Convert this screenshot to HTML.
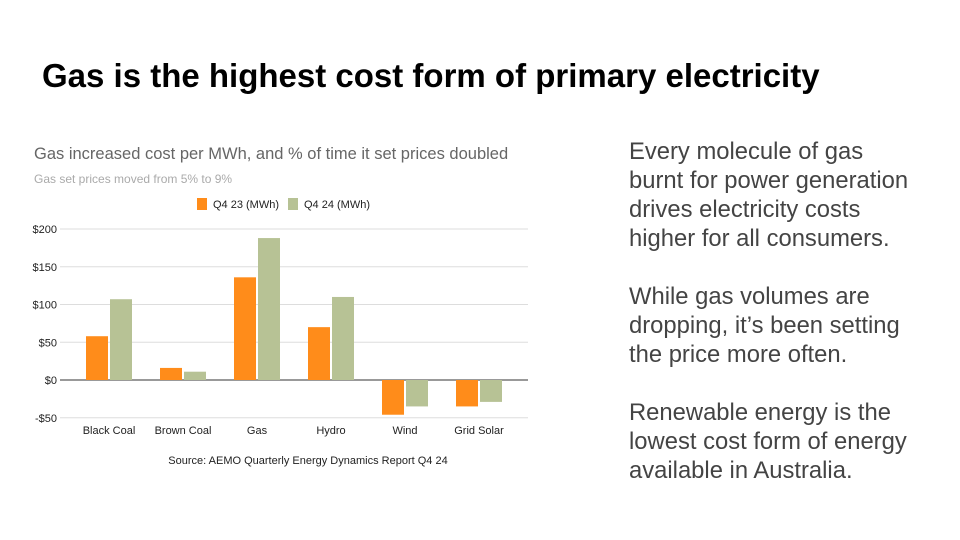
<!DOCTYPE html>
<html><head><meta charset="utf-8"><style>
body{margin:0;width:960px;height:540px;background:#fff;overflow:hidden;font-family:"Liberation Sans",Arial,sans-serif;position:relative}
.t{position:absolute;white-space:nowrap}
</style></head><body>
<div class="t" style="left:42px;top:57px;font-size:33px;font-weight:bold;color:#000">Gas is the highest cost form of primary electricity</div>
<div class="t" style="left:629px;top:137px;font-size:23.8px;line-height:29px;color:#444">Every molecule of gas<br>burnt for power generation<br>drives electricity costs<br>higher for all consumers.<br><br>While gas volumes are<br>dropping, it’s been setting<br>the price more often.<br><br>Renewable energy is the<br>lowest cost form of energy<br>available in Australia.</div>
<svg id="chart" width="960" height="540" style="position:absolute;left:0;top:0">
<text x="34" y="159" font-size="16.5" fill="#666">Gas increased cost per MWh, and % of time it set prices doubled</text>
<text x="34" y="183" font-size="12" fill="#aaa">Gas set prices moved from 5% to 9%</text>
<rect x="197" y="198" width="10" height="12" fill="#ff8c1a"/>
<text x="213" y="208" font-size="11" fill="#222">Q4 23 (MWh)</text>
<rect x="288" y="198" width="10" height="12" fill="#b7c295"/>
<text x="304" y="208" font-size="11" fill="#222">Q4 24 (MWh)</text>
<g id="grid"></g><g id="bars"></g><g id="labels"></g>
<text x="308" y="464" font-size="11" fill="#222" text-anchor="middle">Source: AEMO Quarterly Energy Dynamics Report Q4 24</text>
</svg>
<script>
const categories=["Black Coal","Brown Coal","Gas","Hydro","Wind","Grid Solar"];
const q423=[58,16,136,70,-46,-35];
const q424=[107,11,188,110,-35,-29];
const ticks=[-50,0,50,100,150,200];
const tickLabels=["-$50","$0","$50","$100","$150","$200"];
const ns="http://www.w3.org/2000/svg";
const y=v=>380-v*(151/200);
const x0=72,band=74;
const cx=i=>x0+band*i+band/2;
function mk(t,a,p){const e=document.createElementNS(ns,t);for(const k in a)e.setAttribute(k,a[k]);p.appendChild(e);return e;}
const G=document.getElementById('grid'),B=document.getElementById('bars'),L=document.getElementById('labels');
ticks.forEach((v,i)=>{
 const l=mk('line',{x1:60,x2:528,y1:y(v),y2:y(v),stroke:v===0?'#333':'#ddd','stroke-width':1},G);
 
 
 const t=mk('text',{x:57,y:y(v)+4,'font-size':11,fill:'#222','text-anchor':'end'},G);
 t.textContent=tickLabels[i];
 
 
});
categories.forEach((c,i)=>{
 [[q423,'#ff8c1a',-23],[q424,'#b7c295',1]].forEach(([s,col,off],j)=>{
  const v=s[i];
  const r=mk('rect',{x:cx(i)+off,width:22,y:Math.min(y(v),y(0)),height:Math.abs(y(v)-y(0)),fill:col},B);
  
  
 });
 const t=mk('text',{x:cx(i),y:434,'font-size':11,fill:'#222','text-anchor':'middle'},L);
 t.textContent=c;
 
 
});
</script>
</body></html>
